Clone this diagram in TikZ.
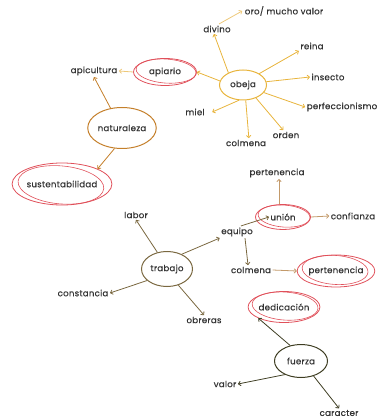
\documentclass[tikz,border=0pt]{standalone}
\usepackage{fontspec}
\setmainfont{Poppins}
\newfontfamily\lblfont{Poppins}[FakeBold=0.6,LetterSpace=3]
\usetikzlibrary{arrows.meta,shapes.geometric}
\definecolor{txt}{HTML}{333333}
\definecolor{yel}{HTML}{E8B43C}
\definecolor{yelp}{HTML}{EDC879}
\definecolor{ora}{HTML}{C47F2A}
\definecolor{redc}{HTML}{E0505A}
\definecolor{tan}{HTML}{C39A6A}
\definecolor{brn}{HTML}{7A6840}
\definecolor{dkb}{HTML}{3E3D22}
\begin{document}
\begin{tikzpicture}[x=1pt,y=-1pt,
  lbl/.style={text=txt,font=\lblfont\fontsize{8.6}{9}\selectfont,inner sep=1.5pt},
  hub/.style={lbl,ellipse,draw,line width=1pt,inner sep=0pt},
  redring/.style={lbl,ellipse,draw=redc,line width=0.8pt,inner sep=0pt},
  arr/.style={-{To[length=3pt,width=5pt]},line width=0.8pt}]
\useasboundingbox (0,0) rectangle (382,419);
% hubs
\node[hub,draw=yel,minimum width=47,minimum height=30] (obeja) at (243,85) {obeja};
\node[hub,draw=ora,minimum width=62,minimum height=41] (natur) at (122,128) {naturaleza};
\node[hub,draw=brn,minimum width=51,minimum height=35] (trabajo) at (167,269) {trabajo};
\node[hub,draw=dkb,minimum width=53,minimum height=33] (fuerza) at (301,361) {fuerza};
% red rings
\node[redring,minimum width=63,minimum height=27] (apiario) at (165,72) {apiario};
\node[redring,minimum width=90,minimum height=42] (susten) at (62,184) {sustentabilidad};
\node[redring,minimum width=55,minimum height=25] (union) at (283,217) {unión};
\node[redring,minimum width=68,minimum height=32] (pert2) at (336,271) {pertenencia};
\node[redring,minimum width=68,minimum height=31] (dedic) at (284,307) {dedicación};
\draw[redc,line width=0.6pt,rotate around={-4:(165,72)}] (166,71) ellipse (30 and 12);
\draw[redc,line width=0.6pt,rotate around={-5:(62,184)}] (61,185) ellipse (43 and 19);
\draw[redc,line width=0.6pt,rotate around={-4:(283,217)}] (284,216) ellipse (26 and 11);
\draw[redc,line width=0.6pt,rotate around={-4:(336,271)}] (335,270) ellipse (33 and 14.5);
\draw[redc,line width=0.6pt,rotate around={-4:(284,307)}] (285,306) ellipse (33 and 14);
% labels
\node[lbl] (oro) at (284,11) {oro/ mucho valor};
\node[lbl] (divino) at (217,29) {divino};
\node[lbl] (reina) at (312,46) {reina};
\node[lbl] (apicul) at (94,71) {apicultura};
\node[lbl] (insecto) at (328,77) {insecto};
\node[lbl] (perfec) at (342,107) {perfeccionismo};
\node[lbl] (miel) at (195,112) {miel};
\node[lbl] (orden) at (286,135) {orden};
\node[lbl] (colm1) at (246,143) {colmena};
\node[lbl] (pert1) at (277,173) {pertenencia};
\node[lbl] (confi) at (353,216) {confianza};
\node[lbl] (labor) at (136,215) {labor};
\node[lbl] (equipo) at (237,232) {equipo};
\node[lbl] (colm2) at (251,270) {colmena};
\node[lbl] (const) at (83,293) {constancia};
\node[lbl] (obreras) at (204,320) {obreras};
\node[lbl] (valor) at (225,384) {valor};
\node[lbl] (caract) at (339,413) {caracter};
% obeja arrows
\draw[arr,yel] (obeja.140) -- ([xshift=-3pt]divino.south);
\draw[arr,yelp] ([xshift=2pt]divino.north) -- ([xshift=-1pt]oro.west);
\draw[arr,yel] (obeja.35) -- (reina.south west);
\draw[arr,yel] (obeja.8) -- (insecto.west);
\draw[arr,yel] (obeja.-20) -- (perfec.west);
\draw[arr,yel] (obeja.-45) -- (orden.120);
\draw[arr,yel] (obeja.-80) -- (colm1.60);
\draw[arr,yel] (obeja.-105) -- ([xshift=6pt]miel.east);
\draw[arr,yel] (obeja.170) -- (apiario.east);
\draw[arr,yelp] (apiario.west) -- (apicul.east);
% naturaleza arrows
\draw[arr,ora] (natur.120) -- (apicul.south);
\draw[arr,ora] (natur.-110) -- (susten.north east);
% union cluster
\draw[arr,tan] ([xshift=-4pt]union.north) -- ([xshift=-4pt]union.north |- pert1.south);
\draw[arr,tan] (union.east) -- (confi.west);
\draw[arr,brn] ([xshift=4pt]equipo.north) -- ([xshift=-14pt]union.center);
\draw[arr,brn] ([xshift=8pt]equipo.south) -- ([xshift=-3pt]colm2.north);
\draw[arr,tan] (colm2.east) -- (pert2.west);
% trabajo arrows
\draw[arr,brn] (trabajo.120) -- (labor.south);
\draw[arr,brn] (trabajo.45) -- (equipo.south west);
\draw[arr,brn] (trabajo.-150) -- (const.east);
\draw[arr,brn] (trabajo.-55) -- (obreras.north);
% fuerza arrows
\draw[arr,dkb] (fuerza.125) -- (dedic.south west);
\draw[arr,dkb] (fuerza.-140) -- (valor.east);
\draw[arr,dkb] (fuerza.-50) -- (caract.north);
\end{tikzpicture}
\end{document}
